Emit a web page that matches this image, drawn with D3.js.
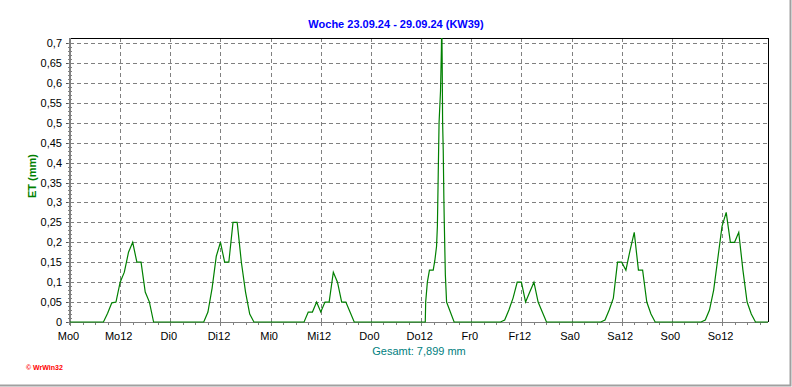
<!DOCTYPE html>
<html>
<head>
<meta charset="utf-8">
<script src="https://cdn.jsdelivr.net/npm/d3@7"></script>
<style>
    body { margin: 0; background: #fff; }
    svg { display: block; font-family: Arial, "Liberation Sans", sans-serif; }
</style>
</head>
<body>
<div id="chart"></div>
<script>
// hourly ET values (mm), hours 0..23 of each day
var days = ["Mo", "Di", "Mi", "Do", "Fr", "Sa", "So"];
var etMo = [0, 0, 0, 0, 0, 0, 0, 0, 0, 0.022, 0.048, 0.05, 0.1, 0.125, 0.175, 0.2, 0.15, 0.15, 0.075, 0.05, 0, 0, 0, 0];
var etDi = [0, 0, 0, 0, 0, 0, 0, 0, 0, 0.025, 0.085, 0.165, 0.2, 0.15, 0.15, 0.25, 0.25, 0.15, 0.075, 0.02, 0, 0, 0, 0];
var etMi = [0, 0, 0, 0, 0, 0, 0, 0, 0, 0.025, 0.025, 0.05, 0.025, 0.05, 0.05, 0.125, 0.1, 0.05, 0.05, 0.025, 0, 0, 0, 0];
var etDo = [0, 0, 0, 0, 0, 0, 0, 0, 0, 0, 0, 0, 0, 0, 0, 0, 0, 0, 0, 0, 0, 0, 0, 0];
var etFr = [0, 0, 0, 0, 0, 0, 0, 0, 0.005, 0.03, 0.06, 0.1, 0.1, 0.05, 0.075, 0.1, 0.05, 0.025, 0, 0, 0, 0, 0, 0];
var etSa = [0, 0, 0, 0, 0, 0, 0, 0, 0.005, 0.03, 0.06, 0.15, 0.15, 0.13, 0.18, 0.225, 0.13, 0.13, 0.05, 0.02, 0, 0, 0, 0];
var etSo = [0, 0, 0, 0, 0, 0, 0, 0, 0.005, 0.03, 0.08, 0.16, 0.24, 0.275, 0.2, 0.2, 0.225, 0.13, 0.05, 0.02, 0, 0, 0, 0];

// Thursday afternoon peak, finer resolution (hour of day, mm)
var doPeakHours = [13, 13.1, 13.5, 14, 14.9, 15.3, 15.7, 15.9, 16.1, 16.3, 16.65, 16.85, 16.95, 17.05, 17.15, 17.3, 17.45, 17.55, 17.8, 18.1, 19.9];
var doPeakValues = [0, 0.05, 0.1, 0.13, 0.13, 0.155, 0.19, 0.24, 0.37, 0.5, 0.58, 0.68, 0.76, 0.65, 0.5, 0.43, 0.31, 0.25, 0.12, 0.05, 0];

var yTicks = [0, 0.05, 0.1, 0.15, 0.2, 0.25, 0.3, 0.35, 0.4, 0.45, 0.5, 0.55, 0.6, 0.65, 0.7];
var xTicks = d3.range(0, 168, 12);

var titleText = "Woche 23.09.24 - 29.09.24 (KW39)";
var totalText = "Gesamt: 7,899 mm";

// build the series
var dayValues = [etMo, etDi, etMi, etDo, etFr, etSa, etSo];
var series = [];
dayValues.forEach(function (vals, d) {
    vals.forEach(function (v, h) {
        if (d === 3 && h >= 13 && h < 20) {
            if (h === 13) {
                doPeakHours.forEach(function (ph, i) {
                    series.push({ t: d * 24 + ph, v: doPeakValues[i] });
                });
            }
            return;
        }
        series.push({ t: d * 24 + h, v: v });
    });
});

var W = 792, H = 387;
var margin = { top: 38, right: 24, bottom: 65, left: 70 };

var x = d3.scaleLinear().domain([0, 167]).range([70, 768]);
var y = d3.scaleLinear().domain([0, 0.7]).range([322, 43]);

var svg = d3.select("#chart").append("svg")
    .attr("width", W)
    .attr("height", H);

// outer frame (right and bottom edge)
svg.append("path")
    .attr("d", "M790.5,0V385.5H0")
    .attr("fill", "none")
    .attr("stroke", "#a0a0a0")
    .attr("stroke-width", 2);

// grid
var grid = svg.append("g").attr("stroke", "#808080").attr("stroke-dasharray", "4,3").attr("shape-rendering", "crispEdges");
grid.selectAll(".hgrid")
    .data(yTicks)
    .enter().append("line")
    .attr("x1", 70).attr("x2", 768)
    .attr("y1", function (d) { return Math.round(y(d)) + 0.5; })
    .attr("y2", function (d) { return Math.round(y(d)) + 0.5; });
grid.selectAll(".vgrid")
    .data(xTicks.slice(1))
    .enter().append("line")
    .attr("y1", 38).attr("y2", 322)
    .attr("x1", function (d) { return Math.round(x(d)) + 0.5; })
    .attr("x2", function (d) { return Math.round(x(d)) + 0.5; });

// top and right border
svg.append("path")
    .attr("d", "M70,38.5H768.5V322")
    .attr("fill", "none")
    .attr("stroke", "#000")
    .attr("shape-rendering", "crispEdges");

// y axis
var yAxis = svg.append("g")
    .attr("transform", "translate(70,0)")
    .call(d3.axisLeft(y).tickValues(yTicks).tickSize(4).tickPadding(4)
        .tickFormat(function (d) { return String(d).replace(".", ","); }));
yAxis.select(".domain").remove();
yAxis.selectAll("line").attr("stroke", "#555").attr("shape-rendering", "crispEdges");
yAxis.selectAll("text")
    .attr("font-size", 11)
    .attr("font-family", "Arial, 'Liberation Sans', sans-serif")
    .attr("fill", "#000");

// minor y ticks every 0.01
svg.append("g").selectAll("line")
    .data(d3.range(0, 71).map(function (i) { return i / 100; }))
    .enter().append("line")
    .attr("x1", 68).attr("x2", 72)
    .attr("y1", function (d) { return Math.round(y(d)) + 0.5; })
    .attr("y2", function (d) { return Math.round(y(d)) + 0.5; })
    .attr("stroke", "#808080")
    .attr("shape-rendering", "crispEdges");
svg.append("line")
    .attr("x1", 70).attr("x2", 70)
    .attr("y1", 38).attr("y2", 325)
    .attr("stroke", "#808080")
    .attr("stroke-width", 2);

// x axis
var xAxis = svg.append("g")
    .attr("transform", "translate(0,322)")
    .call(d3.axisBottom(x).tickValues(xTicks).tickSize(4).tickPadding(6)
        .tickFormat(function (d) { return days[Math.floor(d / 24)] + (d % 24); }));
xAxis.select(".domain").remove();
xAxis.selectAll("line").attr("stroke", "#808080").attr("shape-rendering", "crispEdges");
xAxis.selectAll("text")
    .attr("font-size", 11)
    .attr("font-family", "Arial, 'Liberation Sans', sans-serif")
    .attr("dx", -2)
    .attr("fill", "#000");

// minor x ticks every 3 hours
svg.append("g").selectAll("line")
    .data(d3.range(0, 168, 3))
    .enter().append("line")
    .attr("x1", function (d) { return Math.round(x(d)) + 0.5; })
    .attr("x2", function (d) { return Math.round(x(d)) + 0.5; })
    .attr("y1", 322).attr("y2", 325)
    .attr("stroke", "#808080")
    .attr("shape-rendering", "crispEdges");
svg.append("line")
    .attr("x1", 70).attr("x2", 768)
    .attr("y1", 322.5).attr("y2", 322.5)
    .attr("stroke", "#808080");

// series line
svg.append("clipPath").attr("id", "plotclip")
    .append("rect").attr("x", 70).attr("y", 38).attr("width", 699).attr("height", 286);

var line = d3.line()
    .x(function (d) { return x(d.t); })
    .y(function (d) { return y(d.v); });

svg.append("path")
    .datum(series)
    .attr("clip-path", "url(#plotclip)")
    .attr("fill", "none")
    .attr("stroke", "#008000")
    .attr("stroke-width", 1.2)
    .attr("d", line);

// title
svg.append("text")
    .attr("x", 396).attr("y", 28)
    .attr("text-anchor", "middle")
    .attr("font-size", 11)
    .attr("font-weight", "bold")
    .attr("fill", "#0000ff")
    .text(titleText);

// y label
svg.append("text")
    .attr("transform", "translate(36,176) rotate(-90)")
    .attr("text-anchor", "middle")
    .attr("font-size", 11)
    .attr("font-weight", "bold")
    .attr("fill", "#008000")
    .text("ET  (mm)");

// total
svg.append("text")
    .attr("x", 419).attr("y", 355)
    .attr("text-anchor", "middle")
    .attr("font-size", 11)
    .attr("fill", "#008080")
    .text(totalText);

// logo
svg.append("text")
    .attr("x", 26).attr("y", 370)
    .attr("font-size", 7)
    .attr("font-weight", "bold")
    .attr("fill", "#ff0000")
    .text("\u00a9 WrWin32");
</script>
</body>
</html>
